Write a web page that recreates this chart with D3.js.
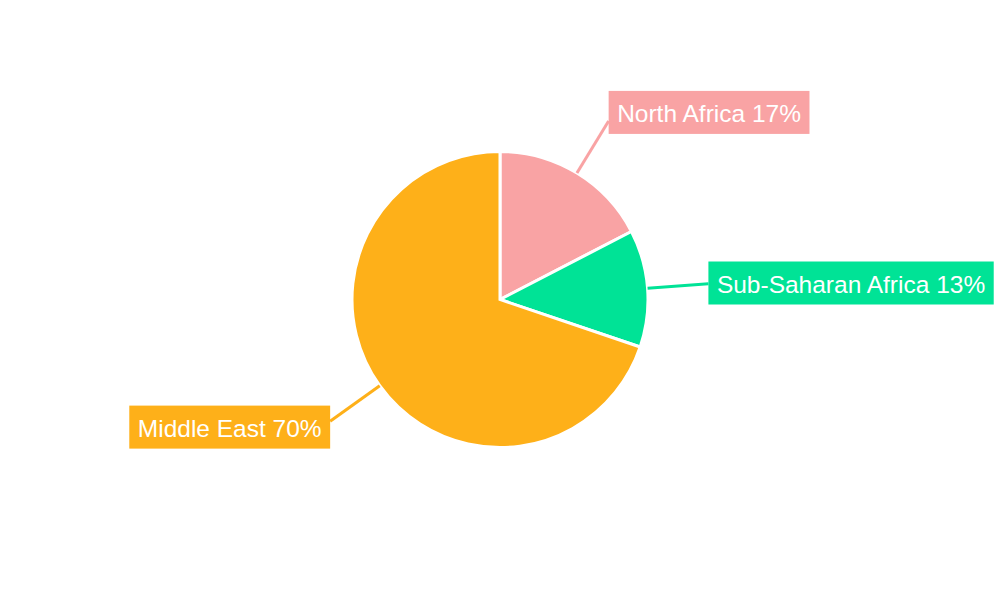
<!DOCTYPE html>
<html>
<head>
<meta charset="utf-8">
<script src="https://cdn.jsdelivr.net/npm/d3@7"></script>
<style>
  body { margin: 0; background: #fff; }
  text { font-family: "Liberation Sans", Arial, sans-serif; }
</style>
</head>
<body>
<script>
// données (parts estimées d'après les angles, étiquettes arrondies)
const regions = ["North Africa", "Sub-Saharan Africa", "Middle East"];
const shares = [17.4, 12.8, 69.8];
const colors = ["#F9A3A4", "#00E396", "#FEB019"];

const width = 1000, height = 600;
const cx = 500, cy = 299.5, radius = 148;

const svg = d3.select("body").append("svg")
    .attr("width", width)
    .attr("height", height);

const g = svg.append("g").attr("transform", `translate(${cx},${cy})`);

const data = regions.map((r, i) => ({ label: r, value: shares[i], color: colors[i] }));

const pie = d3.pie().value(d => d.value).sort(null);
const arc = d3.arc().innerRadius(0).outerRadius(radius);
const arcs = pie(data);

g.selectAll("path.slice")
    .data(arcs)
    .join("path")
    .attr("class", "slice")
    .attr("d", arc)
    .attr("fill", d => d.data.color)
    .attr("stroke", "#fff")
    .attr("stroke-width", 3);

// lignes de rappel + étiquettes
const lineInner = d3.arc().innerRadius(radius).outerRadius(radius);
const lineOuter = d3.arc().innerRadius(radius + 61).outerRadius(radius + 61);

const labels = g.selectAll("g.label")
    .data(arcs)
    .join("g")
    .attr("class", "label");

labels.append("line")
    .attr("x1", d => lineInner.centroid(d)[0])
    .attr("y1", d => lineInner.centroid(d)[1])
    .attr("x2", d => lineOuter.centroid(d)[0])
    .attr("y2", d => lineOuter.centroid(d)[1])
    .attr("stroke", d => d.data.color)
    .attr("stroke-width", 3);

labels.each(function(d) {
    const sel = d3.select(this);
    const [ax, ay] = lineOuter.centroid(d);
    const mid = (d.startAngle + d.endAngle) / 2;
    const right = mid < Math.PI;
    const boxH = 43, pad = 8.5;

    const rect = sel.append("rect").attr("fill", d.data.color);
    const txt = sel.append("text")
        .attr("fill", "#fff")
        .attr("font-size", 24.5)
        .attr("dominant-baseline", "central")
        .text(`${d.data.label} ${Math.round(d.data.value)}%`);

    const tw = txt.node().getComputedTextLength();
    const boxW = tw + pad * 2;
    const x0 = right ? ax : ax - boxW;
    const yc = ay - 10 * Math.cos(mid);

    rect.attr("x", x0).attr("y", yc - boxH / 2)
        .attr("width", boxW).attr("height", boxH);
    txt.attr("x", x0 + pad).attr("y", yc + 1);
});
</script>
</body>
</html>
